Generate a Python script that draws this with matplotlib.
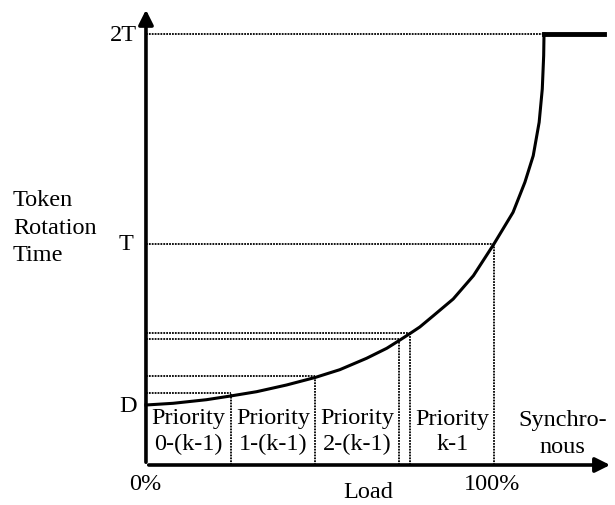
import matplotlib
matplotlib.use("Agg")
import matplotlib.pyplot as plt

plt.rcParams['font.family'] = ['Liberation Serif', 'DejaVu Serif']

# curve: load (%) vs token rotation time (schematic units)
curve_x = [0, 7.8, 17.4, 24.3, 31.8, 40.4, 48.6, 55.7, 63.4, 69.2, 73.0, 75.9,
           78.7, 82.6, 88.3, 94.1, 100, 105.5, 108.9, 111.3, 113.0, 113.9, 114.3, 114.4]
curve_y = [60, 61.7, 65.3, 69, 73.3, 80, 87.5, 95.3, 106.7, 116.7, 125, 131.5,
           138, 149.3, 166, 189.3, 221, 252.7, 282.7, 309.3, 342.7, 376, 409.3, 431]

# guide lines (x where the curve hits each level)
guide_x = [24.4, 48.6, 72.7, 75.9, 100]
guide_y = [72, 89, 126, 132, 221]

level_D = 60
level_T = 221
level_2T = 431
sync_end = 131.6

regions = ["Priority\n0-(k-1)", "Priority\n1-(k-1)", "Priority\n2-(k-1)", "Priority\nk-1"]
region_x = [12.2, 36.5, 60.6, 88.0]

fig = plt.figure(figsize=(6.15, 5.06), dpi=100)
ax = fig.add_axes([0, 0, 1, 1])
ax.set_xlim(-41.95, 134.8)
ax.set_ylim(-40, 466)
ax.axis('off')

dot = dict(color='black', lw=1.3, linestyle=(0, (1, 0.6)))

# dotted guides
for gx, gy in zip(guide_x, guide_y):
    ax.plot([0, gx], [gy, gy], **dot)
    ax.plot([gx, gx], [0, gy], **dot)
ax.plot([0, curve_x[-1]], [level_2T, level_2T], **dot)

# curve + synchronous saturation
ax.plot(curve_x, curve_y, color='black', lw=2.2, solid_joinstyle='round')
ax.plot([curve_x[-1], sync_end], [level_2T, level_2T], color='black', lw=3.5)

# axes with arrows
ax.annotate('', xy=(0, 458), xytext=(0, 0),
            arrowprops=dict(arrowstyle='-|>', lw=2.6, color='black', mutation_scale=22))
ax.annotate('', xy=(134.2, 0), xytext=(0, 0),
            arrowprops=dict(arrowstyle='-|>', lw=2.6, color='black', mutation_scale=22))

fs = 17.5
ax.text(-2.6, level_2T, "2T", ha='right', va='center', fontsize=fs)
ax.text(-3.5, level_T, "T", ha='right', va='center', fontsize=fs)
ax.text(-2.5, level_D, "D", ha='right', va='center', fontsize=fs)
ax.text(-0.3, -19, "0%", ha='center', va='center', fontsize=fs)
ax.text(99.5, -19, "100%", ha='center', va='center', fontsize=fs)
ax.text(63.8, -27, "Load", ha='center', va='center', fontsize=fs)
ax.text(-38.2, 238, "Token\nRotation\nTime", ha='left', va='center',
        fontsize=fs, linespacing=1.4)

for label, rx in zip(regions, region_x):
    ax.text(rx, 34, label, ha='center', va='center', fontsize=fs, linespacing=1.3)
ax.text(119.8, 32, "Synchro-\nnous", ha='center', va='center', fontsize=fs, linespacing=1.4)

fig.savefig("out.png", dpi=100)
